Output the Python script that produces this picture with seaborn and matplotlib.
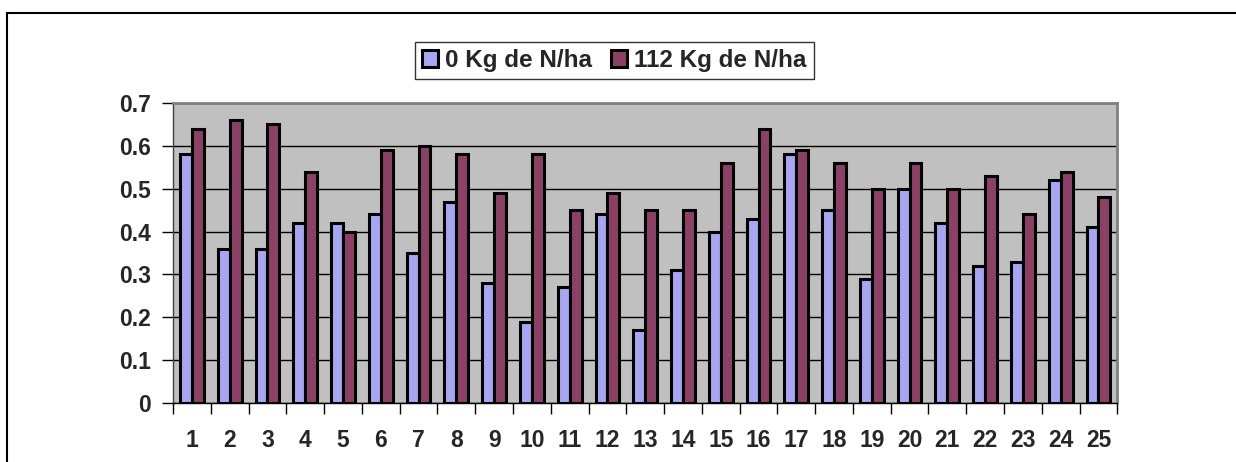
import pandas as pd
import numpy as np
import matplotlib
matplotlib.use('Agg')
import matplotlib.pyplot as plt
import seaborn as sns
from matplotlib.patches import Rectangle

# datos
muestras = [str(i) for i in range(1, 26)]
sin_n = [0.58, 0.36, 0.36, 0.42, 0.42, 0.44, 0.35, 0.47, 0.28, 0.19,
         0.27, 0.44, 0.17, 0.31, 0.40, 0.43, 0.58, 0.45, 0.29, 0.50,
         0.42, 0.32, 0.33, 0.52, 0.41]
con_n = [0.64, 0.66, 0.65, 0.54, 0.40, 0.59, 0.60, 0.58, 0.49, 0.58,
         0.45, 0.49, 0.45, 0.45, 0.56, 0.64, 0.59, 0.56, 0.50, 0.56,
         0.50, 0.53, 0.44, 0.54, 0.48]
series = ['0 Kg de N/ha', '112 Kg de N/ha']
colores = ['#9999FF', '#993366']

df = pd.DataFrame({
    'muestra': muestras * 2,
    'valor': sin_n + con_n,
    'serie': [series[0]] * len(muestras) + [series[1]] * len(muestras),
})

sns.set_style('white')
plt.rcParams['font.family'] = ['Liberation Sans', 'DejaVu Sans']
plt.rcParams['font.weight'] = 'bold'

fig = plt.figure(figsize=(12.36, 4.62), dpi=100)
ax = fig.add_axes([0.140, 0.1277, 0.764, 0.6494])

sns.barplot(data=df, x='muestra', y='valor', hue='serie', order=muestras,
            hue_order=series, palette=colores, edgecolor='black', linewidth=2.2,
            width=0.63, ax=ax, zorder=3)

ax.set_facecolor('#C0C0C0')
ax.set_ylim(0, 0.7)
ax.set_xlim(-0.5, len(muestras) - 0.5)
ax.set_yticks(np.arange(0, 0.71, 0.1))
ax.set_yticklabels(['0', '0.1', '0.2', '0.3', '0.4', '0.5', '0.6', '0.7'])
ax.yaxis.grid(True, color='black', linewidth=1, zorder=0)
ax.set_axisbelow(True)
ax.set_xlabel('')
ax.set_ylabel('')

# ticks de x entre categorias, etiquetas en el centro
ax.set_xticks(np.arange(len(muestras)))
ax.set_xticklabels(muestras)
ax.set_xticks(np.arange(-0.5, len(muestras), 1), minor=True)
ax.tick_params(axis='x', which='major', length=0, pad=19, labelsize=16.5)
ax.tick_params(axis='x', which='minor', length=8, width=1, direction='out',
               color='black', bottom=True)
ax.tick_params(axis='y', length=8, width=1, direction='out', left=True,
               color='black', pad=8, labelsize=16.5)

for lado in ['top', 'right']:
    ax.spines[lado].set_color('#808080')
    ax.spines[lado].set_linewidth(2)
ax.spines['left'].set_color('#404040')
ax.spines['left'].set_linewidth(1)
ax.spines['bottom'].set_color('black')
ax.spines['bottom'].set_linewidth(1)

handles, labels = ax.get_legend_handles_labels()
ax.get_legend().remove()
leg = fig.legend(handles, labels, loc='center', bbox_to_anchor=(0.497, 0.869),
                 ncol=2, frameon=True, fancybox=False, fontsize=17.5,
                 handlelength=0.65, handleheight=0.65, handletextpad=0.3,
                 columnspacing=0.8, borderpad=0.3, edgecolor='black')
leg.get_frame().set_linewidth(1)

# borde del area del grafico
fig.patches.append(Rectangle((0.0057, -0.05), 1.1, 1.022, transform=fig.transFigure,
                             fill=False, edgecolor='black', linewidth=1.5))

fig.savefig('out.png', dpi=100)
